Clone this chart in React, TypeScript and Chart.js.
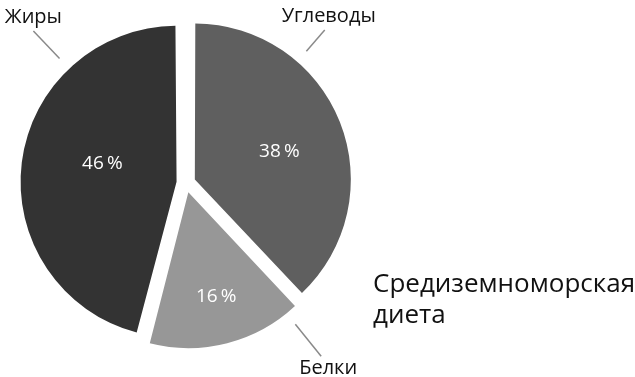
import React, { useEffect, useRef } from "react";
import { Chart, registerables } from "chart.js";

Chart.register(...registerables);

// ---- data ----
const categories = ["Углеводы", "Белки", "Жиры"];
const shares = [38, 16, 46];
const percentLabels = ["38\u2009%", "16\u2009%", "46\u2009%"];
const sliceColors = ["#5f5f5f", "#979797", "#333333"];
const titleLines = ["Средиземноморская", "диета"];

// ---- layout / style constants ----
const OFFSET = 38; // Chart.js translates an arc by offset/4
const RADIUS = 156;
const pctAngle = [72, 165, 284]; // degrees clockwise from top
const pctFrac = [0.57, 0.69, 0.49];
const calloutAngle = [41, 141, 316.5];
const calloutLen = [42, 55, 52];
const calloutDx = [4, 7, 0];
const calloutDy = [-8, 18, -8];
const FONT = "'Open Sans', 'Noto Sans', sans-serif";

const dir = (deg: number) => {
  const r = (deg * Math.PI) / 180;
  return { x: Math.sin(r), y: -Math.cos(r) };
};

const decorPlugin = {
  id: "pieDecor",
  beforeDatasetsDraw(chart: any) {
    const meta = chart.getDatasetMeta(0);
    const ctrl = meta.controller as any;
    meta.data.forEach((arc: any) => {
      const circ = arc.endAngle - arc.startAngle;
      const fix = 1 - Math.sin(Math.min(Math.PI, circ));
      arc.outerRadius = ctrl.outerRadius - (OFFSET / 4) * fix;
    });
  },
  afterDatasetsDraw(chart: any) {
    const ctx: CanvasRenderingContext2D = chart.ctx;
    const meta = chart.getDatasetMeta(0);
    const ctrl = meta.controller as any;
    const R = ctrl.outerRadius;
    meta.data.forEach((arc: any, i: number) => {
      const half = (arc.startAngle + arc.endAngle) / 2;
      const d = OFFSET / 4;
      const cx = arc.x + Math.cos(half) * d;
      const cy = arc.y + Math.sin(half) * d;

      // percentage label
      const p = dir(pctAngle[i]);
      ctx.save();
      ctx.fillStyle = "#ffffff";
      ctx.font = `19px ${FONT}`;
      ctx.textAlign = "center";
      ctx.textBaseline = "middle";
      ctx.fillText(percentLabels[i], cx + p.x * pctFrac[i] * R, cy + p.y * pctFrac[i] * R);
      ctx.restore();

      // callout line
      const c = dir(calloutAngle[i]);
      const x1 = cx + c.x * (R + 14);
      const y1 = cy + c.y * (R + 14);
      const x2 = cx + c.x * (R + calloutLen[i]);
      const y2 = cy + c.y * (R + calloutLen[i]);
      ctx.save();
      ctx.strokeStyle = "#8a8a8a";
      ctx.lineWidth = 1.5;
      ctx.beginPath();
      ctx.moveTo(x1, y1);
      ctx.lineTo(x2, y2);
      ctx.stroke();
      ctx.fillStyle = "#111111";
      ctx.font = `20px ${FONT}`;
      ctx.textAlign = "center";
      ctx.textBaseline = "alphabetic";
      ctx.fillText(categories[i], x2 + calloutDx[i], y2 + calloutDy[i]);
      ctx.restore();
    });

    // title
    ctx.save();
    ctx.fillStyle = "#111111";
    ctx.font = `26px ${FONT}`;
    ctx.textAlign = "left";
    ctx.textBaseline = "alphabetic";
    titleLines.forEach((t, k) => ctx.fillText(t, 373, 292 + k * 31));
    ctx.restore();
  },
};

export default function App() {
  const ref = useRef<HTMLCanvasElement | null>(null);
  useEffect(() => {
    if (!ref.current) return;
    const chart = new Chart(ref.current, {
      type: "pie",
      data: {
        labels: categories,
        datasets: [
          {
            data: shares,
            backgroundColor: sliceColors,
            borderWidth: 0,
            offset: OFFSET,
          },
        ],
      },
      options: {
        animation: false,
        responsive: true,
        maintainAspectRatio: false,
        events: [],
        radius: RADIUS,
        layout: { padding: { left: 20, right: 283, top: 10, bottom: 21 } },
        plugins: {
          legend: { display: false },
          tooltip: { enabled: false },
          title: { display: false },
        },
      } as any,
      plugins: [decorPlugin],
    });
    return () => chart.destroy();
  }, []);
  return (
    <div style={{ position: "fixed", left: 0, top: 0, width: 635, height: 377, background: "#fff" }}>
      <canvas ref={ref} />
    </div>
  );
}
